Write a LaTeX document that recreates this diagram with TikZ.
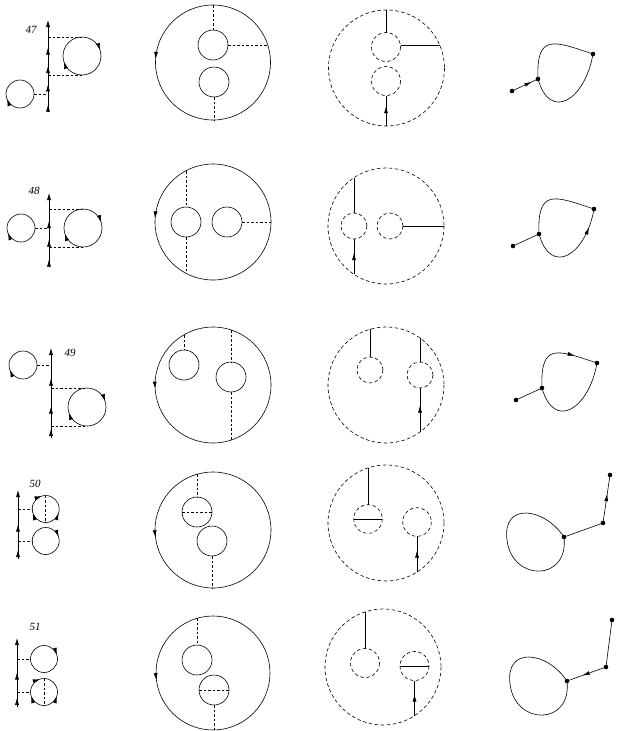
\documentclass[tikz,border=0pt]{standalone}
\usepackage{fontspec}
\setmainfont{Liberation Serif}
\usetikzlibrary{arrows.meta,decorations.markings}

\tikzset{
  >={Latex[length=7pt,width=4pt]},
  curve/.style={line width=0.6pt},
  dashline/.style={line width=0.6pt,dash pattern=on 2.5pt off 2pt},
  dashcirc/.style={line width=0.6pt,dash pattern=on 3.5pt off 2.5pt},
  dot/.style={circle,fill,inner sep=0pt,minimum size=4.6pt},
  num/.style={font=\fontsize{11}{13}\selectfont\itshape},
  fwd/.style={postaction={decorate,decoration={markings,
      mark=at position #1 with {\arrow{>}}}}},
  bwd/.style={postaction={decorate,decoration={markings,
      mark=at position #1 with {\arrowreversed{>}}}}},
}

\begin{document}
\begin{tikzpicture}[x=1pt,y=-1pt]
  \useasboundingbox (0,0) rectangle (616,731);

  % ---------- row 47 ----------
  \draw[curve,->,fwd=0.08,fwd=0.3,fwd=0.5,fwd=0.7] (48,112) -- (48,20);
  \draw[dashline] (48,37) -- (82,37);
  \draw[dashline] (48,75) -- (82,75);
  \draw[dashline] (34,94) -- (48,94);
  \draw[curve,fwd=0.95,fwd=0.45] (82,56) circle[radius=19];
  \draw[curve,fwd=0.44] (20,94) circle[radius=14];
  \node[num] (n47) at (31,30) {47};

  \draw[curve,bwd=0.51] (213,62.5) circle[radius=57.5];
  \draw[curve] (213,45) circle[radius=15];
  \draw[curve] (214,82) circle[radius=15];
  \draw[dashline] (213,5) -- (213,30);
  \draw[dashline] (228,45) -- (268,45);
  \draw[dashline] (214,97) -- (214,120);

  \draw[dashcirc] (386.5,68) circle[radius=58];
  \draw[dashcirc] (386,47) circle[radius=14.5];
  \draw[dashcirc] (386,81) circle[radius=14.5];
  \draw[curve] (386,10) -- (386,32.5);
  \draw[curve] (400.5,45) -- (439.7,45);
  \draw[curve,fwd=0.65] (386,126) -- (386,95.5);

  \begin{scope}[shift={(538,79)}]
    \node[dot] (b1) at (0,0) {};
    \node[dot] (a1) at (-26,12) {};
    \node[dot] (c1) at (55,-25) {};
    \draw[curve,fwd=0.75] (a1.center) -- (b1.center);
    \draw[curve] (b1.center) .. controls (-2,-46) and (16,-38) .. (c1.center)
      .. controls (47,21) and (12,43) .. (b1.center);
  \end{scope}

  % ---------- row 48 ----------
  \draw[curve,->,fwd=0.1,fwd=0.37,fwd=0.62] (49,267) -- (49,193);
  \draw[dashline] (49,209) -- (83,209);
  \draw[dashline] (35,228) -- (49,228);
  \draw[dashline] (49,247) -- (83,247);
  \draw[curve,fwd=0.95,fwd=0.45] (83,228) circle[radius=19];
  \draw[curve,fwd=0.44] (21,228) circle[radius=14];
  \node[num] (n48) at (34,191) {48};

  \draw[curve,bwd=0.51] (213,222) circle[radius=58];
  \draw[curve] (186,222) circle[radius=15];
  \draw[curve] (227,222) circle[radius=15];
  \draw[dashline] (186,171) -- (186,207);
  \draw[dashline] (186,237) -- (186,273);
  \draw[dashline] (242,222) -- (271,222);

  \draw[dashcirc] (386,226) circle[radius=58];
  \draw[dashcirc] (354,226) circle[radius=13];
  \draw[dashcirc] (390,226) circle[radius=13];
  \draw[curve] (354,178) -- (354,213);
  \draw[curve,fwd=0.6] (354,274) -- (354,239);
  \draw[curve] (403,226) -- (444,226);

  \begin{scope}[shift={(539,234)}]
    \node[dot] (b2) at (0,0) {};
    \node[dot] (a2) at (-26,12) {};
    \node[dot] (c2) at (55,-25) {};
    \draw[curve] (a2.center) -- (b2.center);
    \draw[curve] (b2.center) .. controls (-2,-46) and (16,-38) .. (c2.center);
    \draw[curve,bwd=0.2] (c2.center) .. controls (47,21) and (12,43) .. (b2.center);
  \end{scope}

  % ---------- row 49 ----------
  \draw[curve,->,fwd=0.1,fwd=0.35,fwd=0.66] (51,438) -- (51,348);
  \draw[dashline] (37,365) -- (51,365);
  \draw[dashline] (51,388) -- (87,388);
  \draw[dashline] (51,426) -- (87,426);
  \draw[curve,fwd=0.95,fwd=0.45] (87,407) circle[radius=19];
  \draw[curve,fwd=0.44] (23,365) circle[radius=14];
  \node[num] (n49) at (70,353) {49};

  \draw[curve,bwd=0.49] (213,385) circle[radius=58];
  \draw[curve] (184,365) circle[radius=15];
  \draw[curve] (231,377) circle[radius=15];
  \draw[dashline] (184,335) -- (184,350);
  \draw[dashline] (231,330) -- (231,362);
  \draw[dashline] (231,392) -- (231,440);

  \draw[dashcirc] (386,385) circle[radius=58];
  \draw[dashcirc] (370,370) circle[radius=13];
  \draw[dashcirc] (420,375) circle[radius=13];
  \draw[curve] (370,329) -- (370,357);
  \draw[curve] (420,338) -- (420,362);
  \draw[curve,fwd=0.6] (420,432) -- (420,388);

  \begin{scope}[shift={(542,388)}]
    \node[dot] (b3) at (0,0) {};
    \node[dot] (a3) at (-26,12) {};
    \node[dot] (c3) at (55,-25) {};
    \draw[curve] (a3.center) -- (b3.center);
    \draw[curve,fwd=0.72] (b3.center) .. controls (-2,-46) and (16,-38) .. (c3.center);
    \draw[curve] (c3.center) .. controls (47,21) and (12,43) .. (b3.center);
  \end{scope}

  % ---------- row 50 ----------
  \draw[curve,->,fwd=0.13,fwd=0.5] (18,559) -- (18,490);
  \draw[dashline] (18,509) -- (32,509);
  \draw[dashline] (18,541) -- (32,541);
  \draw[curve,fwd=0.7,fwd=0.45,bwd=0.05] (45.7,509) circle[radius=13.5];
  \draw[dashline] (45.7,495.5) -- (45.7,522.5);
  \draw[curve,fwd=0.95] (45.7,541) circle[radius=13.5];
  \node[num] (n50) at (35,484) {50};

  \draw[curve,bwd=0.48] (213,530) circle[radius=58];
  \draw[curve] (197,512) circle[radius=15];
  \draw[curve] (212,541) circle[radius=15];
  \draw[dashline] (197,474) -- (197,497);
  \draw[dashline] (182,512) -- (212,512);
  \draw[dashline] (212,556) -- (212,588);

  \draw[dashcirc] (386,523) circle[radius=58];
  \draw[dashcirc] (368,519) circle[radius=14.3];
  \draw[dashcirc] (417,522) circle[radius=14.3];
  \draw[curve] (368,468) -- (368,504.7);
  \draw[curve] (353.7,519) -- (382.3,519);
  \draw[curve,fwd=0.6] (417,572) -- (417,536.3);

  \begin{scope}[shift={(564,537)}]
    \node[dot] (v4) at (0,0) {};
    \node[dot] (p4) at (39,-14) {};
    \node[dot] (q4) at (46,-62) {};
    \draw[curve] (v4.center) -- (p4.center);
    \draw[curve,fwd=0.6] (p4.center) -- (q4.center);
    \draw[curve] (v4.center) .. controls (-20,-30) and (-62,-35) .. (-57,3)
      .. controls (-52,45) and (5,45) .. (v4.center);
  \end{scope}

  % ---------- row 51 ----------
  \draw[curve,->,fwd=0.13,fwd=0.5] (17,707) -- (17,638);
  \draw[dashline] (17,659) -- (30,659);
  \draw[dashline] (17,692) -- (30,692);
  \draw[curve,fwd=0.95] (44,659) circle[radius=13.5];
  \draw[curve,fwd=0.7,fwd=0.45,bwd=0.05] (44,692) circle[radius=13.5];
  \draw[dashline] (44,678.5) -- (44,705.5);
  \node[num] (n51) at (35,627) {51};

  \draw[curve,bwd=0.48] (213,673) circle[radius=57];
  \draw[curve] (197,660) circle[radius=15];
  \draw[curve] (214,690) circle[radius=15];
  \draw[dashline] (197,618) -- (197,645);
  \draw[dashline] (199,690) -- (229,690);
  \draw[dashline] (214,705) -- (214,730);

  \draw[dashcirc] (383,667) circle[radius=58];
  \draw[dashcirc] (365,663) circle[radius=14.5];
  \draw[dashcirc] (414.5,666) circle[radius=14.5];
  \draw[curve] (365,612) -- (365,648.5);
  \draw[curve] (400,666) -- (429,666);
  \draw[curve,fwd=0.6] (414.5,715.7) -- (414.5,680.5);

  \begin{scope}[shift={(567,681)}]
    \node[dot] (v5) at (0,0) {};
    \node[dot] (p5) at (39,-14) {};
    \node[dot] (q5) at (45,-61) {};
    \draw[curve,fwd=0.6] (p5.center) -- (v5.center);
    \draw[curve] (p5.center) -- (q5.center);
    \draw[curve] (v5.center) .. controls (-20,-30) and (-62,-35) .. (-57,3)
      .. controls (-52,45) and (5,45) .. (v5.center);
  \end{scope}
\end{tikzpicture}
\end{document}
